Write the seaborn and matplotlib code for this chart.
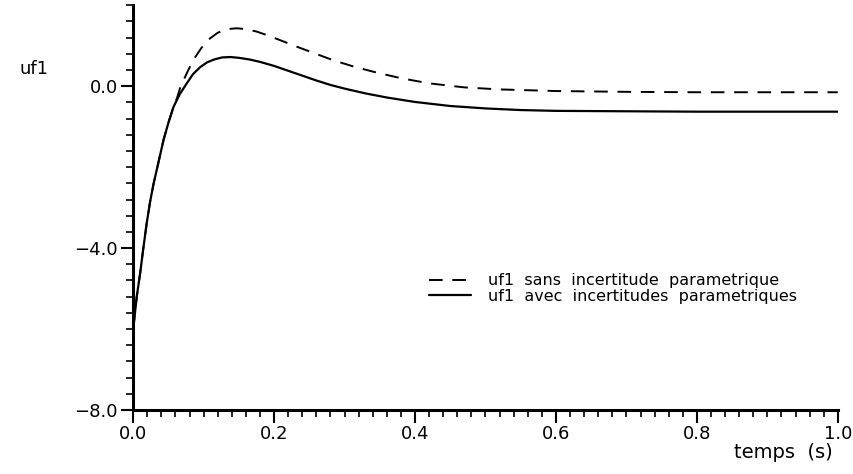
import matplotlib
matplotlib.use("Agg")
import matplotlib.pyplot as plt
from matplotlib.ticker import MultipleLocator, FuncFormatter
import seaborn as sns
import pandas as pd

# solid curve: uf1 with parametric uncertainties
t_avec = [0.0, 0.005, 0.01, 0.014, 0.019, 0.024, 0.029, 0.034, 0.043, 0.05, 0.057, 0.066, 0.076,
          0.085, 0.095, 0.105, 0.115, 0.126, 0.138, 0.15, 0.165, 0.18, 0.2,
          0.22, 0.24, 0.26, 0.28, 0.3, 0.33, 0.36, 0.4, 0.45, 0.5,
          0.55, 0.6, 0.7, 0.8, 0.9, 1.0]
uf1_avec = [-6.0, -5.2, -4.6, -4.05, -3.4, -2.85, -2.4, -2.02, -1.33, -0.9, -0.52, -0.2, 0.07,
            0.3, 0.47, 0.59, 0.66, 0.71, 0.72, 0.70, 0.66, 0.6, 0.5,
            0.38, 0.26, 0.14, 0.03, -0.06, -0.18, -0.28, -0.39, -0.49, -0.55,
            -0.59, -0.61, -0.62, -0.63, -0.63, -0.63]

# dashed curve: uf1 without parametric uncertainty
t_sans = [0.0, 0.005, 0.01, 0.014, 0.019, 0.024, 0.029, 0.034, 0.043, 0.05, 0.057, 0.062, 0.067,
          0.076, 0.085, 0.097, 0.109, 0.12, 0.133, 0.147, 0.16, 0.175, 0.19,
          0.208, 0.23, 0.25, 0.27, 0.284, 0.31, 0.34, 0.379, 0.42, 0.47,
          0.52, 0.6, 0.7, 0.8, 0.9, 1.0]
uf1_sans = [-6.0, -5.2, -4.6, -4.05, -3.4, -2.85, -2.4, -2.02, -1.33, -0.9, -0.52, -0.3, -0.02,
            0.32, 0.64, 0.95, 1.18, 1.32, 1.41, 1.43, 1.41, 1.35, 1.26,
            1.14, 0.99, 0.86, 0.73, 0.64, 0.5, 0.36, 0.2, 0.07, -0.03,
            -0.08, -0.12, -0.14, -0.15, -0.15, -0.15]

label_sans = "uf1  sans  incertitude  parametrique"
label_avec = "uf1  avec  incertitudes  parametriques"


def fmt(v, pos):
    return ("%.1f" % v).replace("-", "\u2212")


def main():
    sns.set_style("ticks")
    plt.rcParams["font.family"] = ["DejaVu Sans"]
    plt.rcParams["text.color"] = "black"
    plt.rcParams["xtick.color"] = "black"
    plt.rcParams["ytick.color"] = "black"

    fig = plt.figure(figsize=(8.54, 4.74), dpi=100)
    ax = fig.add_axes([0.156, 0.135, 0.825, 0.854])

    df_sans = pd.DataFrame({"t": t_sans, "uf1": uf1_sans})
    df_avec = pd.DataFrame({"t": t_avec, "uf1": uf1_avec})

    sns.lineplot(data=df_sans, x="t", y="uf1", ax=ax, color="black", lw=1.4,
                 linestyle=(0, (7, 5)), label=label_sans)
    sns.lineplot(data=df_avec, x="t", y="uf1", ax=ax, color="black", lw=1.6,
                 label=label_avec)

    ax.set_xlim(0, 1.0)
    ax.set_ylim(-8, 2)
    ax.xaxis.set_major_locator(MultipleLocator(0.2))
    ax.xaxis.set_minor_locator(MultipleLocator(0.02))
    ax.yaxis.set_major_locator(MultipleLocator(4.0))
    ax.yaxis.set_minor_locator(MultipleLocator(0.4))
    ax.xaxis.set_major_formatter(FuncFormatter(fmt))
    ax.yaxis.set_major_formatter(FuncFormatter(fmt))
    ax.tick_params(which="major", length=9, width=1.5, labelsize=13,
                   direction="out", pad=2, colors="black")
    ax.tick_params(which="minor", length=5, width=1.2, direction="out", colors="black")
    sns.despine(ax=ax)
    for s in ["left", "bottom"]:
        ax.spines[s].set_linewidth(2.2)
        ax.spines[s].set_color("black")

    ax.set_xlabel("")
    ax.set_ylabel("")
    fig.text(0.023, 0.855, "uf1", fontsize=13, ha="left", va="center")
    fig.text(0.975, 0.045, "temps  (s)", fontsize=14, ha="right", va="center")

    ax.legend(loc="upper left", bbox_to_anchor=(0.42, 0.338), frameon=False,
              fontsize=11.5, handlelength=2.6, handletextpad=1.1,
              labelspacing=0.05, borderaxespad=0, borderpad=0)

    fig.savefig("out.png", dpi=100)


if __name__ == "__main__":
    main()
